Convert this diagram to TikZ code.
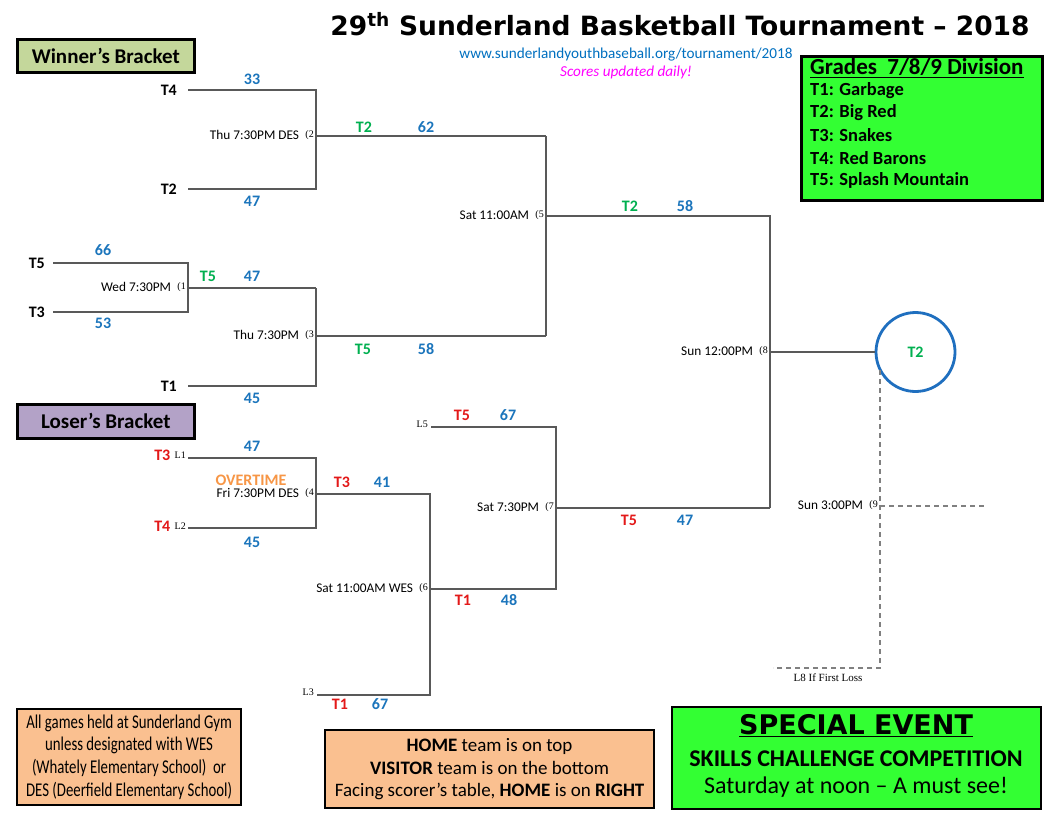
\documentclass[tikz,border=0pt]{standalone}
\usepackage{fontspec}
\setmainfont{Carlito}
\newfontfamily\heavyfont{DejaVu Sans}
\newfontfamily\timesfont{Liberation Serif}
\newfontfamily\condfont[FakeStretch=0.76]{Carlito}
\usetikzlibrary{positioning}
\definecolor{lineGray}{HTML}{595959}
\definecolor{scoreBlue}{HTML}{1B75BC}
\definecolor{winGreen}{HTML}{00B050}
\definecolor{loseRed}{HTML}{E31919}
\definecolor{overOrange}{HTML}{F79646}
\definecolor{urlBlue}{HTML}{0070C0}
\definecolor{dailyPink}{HTML}{FF00FF}
\definecolor{legendGreen}{HTML}{33FF33}
\definecolor{winBox}{HTML}{C4D79B}
\definecolor{loseBox}{HTML}{B3A2C7}
\definecolor{noteBox}{HTML}{FAC090}
\definecolor{champBlue}{HTML}{1F6FBF}
\tikzset{
  bracketLine/.style={draw=lineGray, line width=1.1pt},
  ifLine/.style={draw=gray, line width=1.3pt, dash pattern=on 5pt off 4pt},
  labelBox/.style={draw=black, line width=2.6pt, inner sep=0pt, anchor=north west},
  noteText/.style={align=center, font=\fontsize{19}{22.5}\selectfont}
}
\begin{document}
\begin{tikzpicture}[x=1pt, y=-1pt,
    team/.style={font=\fontsize{16}{18}\selectfont\bfseries, inner sep=0pt},
    score/.style={font=\fontsize{16}{18}\selectfont\bfseries, text=scoreBlue, inner sep=0pt},
    winner/.style={team, text=winGreen},
    loser/.style={team, text=loseRed},
    gametime/.style={font=\fontsize{13.3}{15}\selectfont, anchor=east, inner sep=0pt},
    gamenum/.style={font=\timesfont\fontsize{10}{11}\selectfont, anchor=east, inner sep=1pt},
    slot/.style={font=\timesfont\fontsize{10}{11}\selectfont, anchor=east, inner sep=1pt},
    legendItem/.style={anchor=west, inner sep=0pt, font=\fontsize{18.5}{20}\selectfont\bfseries}
  ]
  \useasboundingbox[fill=white] (0,0) rectangle (1056,816);

  \node[font=\heavyfont\bfseries\fontsize{26.5}{30}\selectfont] (title) at (680,24)
    {29\textsuperscript{th} Sunderland Basketball Tournament – 2018};
  \node[font=\fontsize{15.2}{17}\selectfont, text=urlBlue] (url) at (626,55)
    {www.sunderlandyouthbaseball.org/tournament/2018};
  \node[font=\fontsize{15.2}{17}\selectfont\itshape, text=dailyPink] (daily) at (626,72)
    {Scores updated daily!};

  \node[labelBox, fill=winBox, minimum width=177pt, minimum height=33pt,
    font=\fontsize{21}{22}\selectfont\bfseries] (winbox) at (16,38) {Winner's Bracket};
  \node[labelBox, fill=loseBox, minimum width=177pt, minimum height=34pt,
    font=\fontsize{21}{22}\selectfont\bfseries] (losebox) at (16,403) {Loser's Bracket};

  \node[labelBox, fill=legendGreen, minimum width=241pt, minimum height=144pt] (legend) at (800,55) {};
  \node[legendItem, font=\fontsize{23}{24}\selectfont\bfseries] (grades) at (810,68)
    {\underline{Grades\ \ 7/8/9 Division}};
  \foreach \tm/\club [count=\i] in {T1/Garbage, T2/Big Red, T3/Snakes, T4/Red Barons, T5/Splash Mountain}
    \node[legendItem] (leg\i) at (810,{68+22.5*\i}) {\tm: \club};

  % winner's bracket
  \coordinate (g1a) at (53,263);   \coordinate (g1b) at (53,312);
  \coordinate (g1c) at (188,263);  \coordinate (g1d) at (188,312);
  \coordinate (g1o) at (188,288);
  \coordinate (g2a) at (188,90);   \coordinate (g2b) at (188,189);
  \coordinate (g2c) at (316,90);   \coordinate (g2d) at (316,189);
  \coordinate (g2o) at (316,136);
  \coordinate (g3a) at (316,288);  \coordinate (g3b) at (188,386);
  \coordinate (g3d) at (316,386);  \coordinate (g3o) at (316,336);
  \coordinate (g5a) at (546,136);  \coordinate (g5b) at (546,336);
  \coordinate (g5o) at (546,216);
  \coordinate (g8a) at (770,216);  \coordinate (g8b) at (770,508);
  \coordinate (g8o) at (770,352);

  \draw[bracketLine] (g1a) -- (g1c) -- (g1d) -- (g1b);
  \draw[bracketLine] (g1o) -- (g3a);
  \draw[bracketLine] (g2a) -- (g2c) -- (g2d) -- (g2b);
  \draw[bracketLine] (g2o) -- (g5a);
  \draw[bracketLine] (g3a) -- (g3d) -- (g3b);
  \draw[bracketLine] (g3o) -- (g5b);
  \draw[bracketLine] (g5a) -- (g5b);
  \draw[bracketLine] (g5o) -- (g8a) -- (g8b);

  \node[team, anchor=east] (t4) at (177,90) {T4};
  \node[team, anchor=east] (t2) at (177,189) {T2};
  \node[team, anchor=east] (t5) at (45,263) {T5};
  \node[team, anchor=east] (t3) at (45,312) {T3};
  \node[team, anchor=east] (t1) at (177,386) {T1};
  \node[score] (s33) at (252,79) {33};
  \node[score] (s47a) at (252,201) {47};
  \node[score] (s66) at (103,250) {66};
  \node[score] (s53) at (103,323) {53};
  \node[score] (s45a) at (252,398) {45};

  \node[gamenum] (n1) at (187,287) {(1};
  \node[gametime, left=5pt of n1] (d1) {Wed 7:30PM};
  \node[gamenum] (n2) at (315,135) {(2};
  \node[gametime, left=5pt of n2] (d2) {Thu 7:30PM DES};
  \node[gamenum] (n3) at (315,335) {(3};
  \node[gametime, left=5pt of n3] (d3) {Thu 7:30PM};
  \node[gamenum] (n5) at (545,215) {(5};
  \node[gametime, left=5pt of n5] (d5) {Sat 11:00AM};
  \node[gamenum] (n8) at (769,351) {(8};
  \node[gametime, left=5pt of n8] (d8) {Sun 12:00PM};

  \node[winner] (w1) at (208,276) {T5};
  \node[score] (w1s) at (252,276) {47};
  \node[winner] (w2) at (364,127) {T2};
  \node[score] (w2s) at (426,127) {62};
  \node[winner] (w3) at (363,349) {T5};
  \node[score] (w3s) at (426,349) {58};
  \node[winner] (w5) at (630,206) {T2};
  \node[score] (w5s) at (685,206) {58};

  \node[circle, draw=champBlue, line width=2.8pt, minimum size=79pt, inner sep=0pt,
    font=\fontsize{16}{18}\selectfont\bfseries, text=winGreen] (champ) at (915.5,352) {T2};
  \draw[bracketLine] (g8o) -- (champ.west);

  % loser's bracket
  \coordinate (g4a) at (188,458);  \coordinate (g4b) at (188,528);
  \coordinate (g4c) at (316,458);  \coordinate (g4d) at (316,528);
  \coordinate (g4o) at (316,494);
  \coordinate (g6a) at (430,494);  \coordinate (g6b) at (430,695);
  \coordinate (g6l) at (317,695);  \coordinate (g6o) at (430,589);
  \coordinate (g7a) at (431,427);  \coordinate (g7c) at (556,427);
  \coordinate (g7d) at (556,589);  \coordinate (g7o) at (556,508);

  \draw[bracketLine] (g4a) -- (g4c) -- (g4d) -- (g4b);
  \draw[bracketLine] (g4o) -- (g6a) -- (g6b) -- (g6l);
  \draw[bracketLine] (g6o) -- (g7d) -- (g7c) -- (g7a);
  \draw[bracketLine] (g7o) -- (g8b);

  \node[slot] (l1) at (187,455) {L1};
  \node[loser, left=3pt of l1] (l1t) {T3};
  \node[slot] (l2) at (187,526) {L2};
  \node[loser, left=3pt of l2] (l2t) {T4};
  \node[slot] (l3) at (315,692) {L3};
  \node[slot] (l5) at (429,424) {L5};
  \node[score] (s47b) at (252,446) {47};
  \node[score] (s45b) at (252,542) {45};

  \node[font=\fontsize{16}{18}\selectfont\bfseries, text=overOrange] (ot) at (251,480) {OVERTIME};
  \node[gamenum] (n4) at (315,493) {(4};
  \node[gametime, left=5pt of n4] (d4) {Fri 7:30PM DES};
  \node[gamenum] (n6) at (429,588) {(6};
  \node[gametime, left=5pt of n6] (d6) {Sat 11:00AM WES};
  \node[gamenum] (n7) at (555,507) {(7};
  \node[gametime, left=5pt of n7] (d7) {Sat 7:30PM};

  \node[loser] (w4) at (342,482) {T3};
  \node[score] (w4s) at (382,482) {41};
  \node[loser] (l3t) at (340,704) {T1};
  \node[score] (l3s) at (380,704) {67};
  \node[loser] (w6) at (463,600) {T1};
  \node[score] (w6s) at (509,600) {48};
  \node[loser] (l5t) at (462,415) {T5};
  \node[score] (l5s) at (508,415) {67};
  \node[loser] (w7) at (629,520) {T5};
  \node[score] (w7s) at (685,520) {47};

  % if necessary game
  \coordinate (g9a) at (880,370);  \coordinate (g9b) at (880,668);
  \coordinate (g9l) at (773,668);  \coordinate (g9o) at (880,506);
  \coordinate (g9e) at (984,506);
  \draw[ifLine] (g9a) -- (g9b) -- (g9l);
  \draw[ifLine] (g9o) -- (g9e);
  \node[gamenum] (n9) at (879,505) {(9};
  \node[gametime, left=5pt of n9] (d9) {Sun 3:00PM};
  \node[font=\timesfont\fontsize{11}{12}\selectfont] (l8) at (828,678) {L8 If First Loss};

  % notes
  \node[labelBox, fill=noteBox, line width=2.2pt, minimum width=224pt, minimum height=96pt] (sitebox) at (16,708) {};
  \node[noteText, font=\condfont\fontsize{19.5}{22.7}\selectfont] (site) at (sitebox.center)
    {All games held at Sunderland Gym\\unless designated with WES\\(Whately Elementary School)\ \ or\\DES (Deerfield Elementary School)};
  \node[labelBox, fill=noteBox, line width=2.2pt, minimum width=329pt, minimum height=78pt] (homebox) at (324,729) {};
  \node[noteText] (home) at (homebox.center)
    {\textbf{HOME} team is on top\\\textbf{VISITOR} team is on the bottom\\Facing scorer's table, \textbf{HOME} is on \textbf{RIGHT}};
  \node[labelBox, fill=legendGreen, line width=2.2pt, minimum width=369pt, minimum height=102pt] (eventbox) at (671,706) {};
  \node[font=\heavyfont\bfseries\fontsize{27}{30}\selectfont] (event) at (856,726) {\underline{SPECIAL EVENT}};
  \node[font=\fontsize{24}{26}\selectfont\bfseries] (skills) at (856,759) {SKILLS CHALLENGE COMPETITION};
  \node[font=\fontsize{24}{26}\selectfont] (sat) at (856,787) {Saturday at noon – A must see!};
\end{tikzpicture}
\end{document}
